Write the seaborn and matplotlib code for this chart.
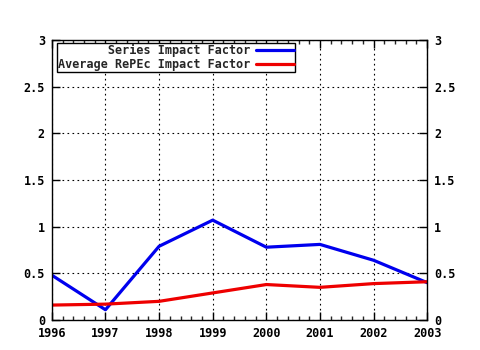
import matplotlib
matplotlib.use("Agg")
import matplotlib.pyplot as plt
import seaborn as sns
import pandas as pd
from matplotlib.ticker import MultipleLocator

years = [1996, 1997, 1998, 1999, 2000, 2001, 2002, 2003]
series_if = [0.48, 0.11, 0.79, 1.07, 0.78, 0.81, 0.64, 0.40]
repec_if = [0.16, 0.17, 0.20, 0.29, 0.38, 0.35, 0.39, 0.41]
labels = ["Series Impact Factor", "Average RePEc Impact Factor"]
yticks = [0, 0.5, 1, 1.5, 2, 2.5, 3]
ytick_labels = ["0", "0.5", "1", "1.5", "2", "2.5", "3"]

sns.set_style("ticks")
plt.rcParams['font.family'] = ['DejaVu Sans Mono', 'DejaVu Sans']
plt.rcParams['font.weight'] = 'bold'

df = pd.DataFrame({"year": years * 2,
                   "value": series_if + repec_if,
                   "series": [labels[0]] * len(years) + [labels[1]] * len(years)})

fig = plt.figure(figsize=(4.8, 3.5), dpi=100)
ax = fig.add_axes([0.108, 0.0857, 0.782, 0.80])
w = max(len(l) for l in labels)
pad = {l: l.rjust(w) for l in labels}
df["series"] = df["series"].map(pad)
sns.lineplot(data=df, x="year", y="value", hue="series",
             palette=["#0000ee", "#ee0000"], linewidth=2.3, ax=ax, legend=True)

ax.set_xlim(1996, 2003)
ax.set_ylim(0, 3)
ax.set_xticks(years)
ax.set_xticklabels([str(y) for y in years])
ax.set_yticks(yticks)
ax.set_yticklabels(ytick_labels)
ax.xaxis.set_minor_locator(MultipleLocator(0.2))
ax.tick_params(axis='both', which='major', direction='in', length=6, width=1,
               labelsize=8.5, colors='black', right=True, top=True, labelright=True, pad=5)
ax.tick_params(axis='x', which='minor', direction='in', length=3, width=1, top=True)
ax.grid(True, which='major', color='black', linestyle=(0, (1.5, 3)), linewidth=0.8)
for s in ax.spines.values():
    s.set_visible(True)
    s.set_color('black')
    s.set_linewidth(1)
ax.set_xlabel("")
ax.set_ylabel("")

leg = ax.legend(loc='upper left', bbox_to_anchor=(0.013, 0.99), markerfirst=False,
                frameon=True, fancybox=False, edgecolor='black', framealpha=1,
                fontsize=8.5, handlelength=3.2, borderpad=0.1, labelspacing=0.05,
                handletextpad=0.5, borderaxespad=0)
leg.get_frame().set_linewidth(1)

fig.savefig("out.png", dpi=100)
